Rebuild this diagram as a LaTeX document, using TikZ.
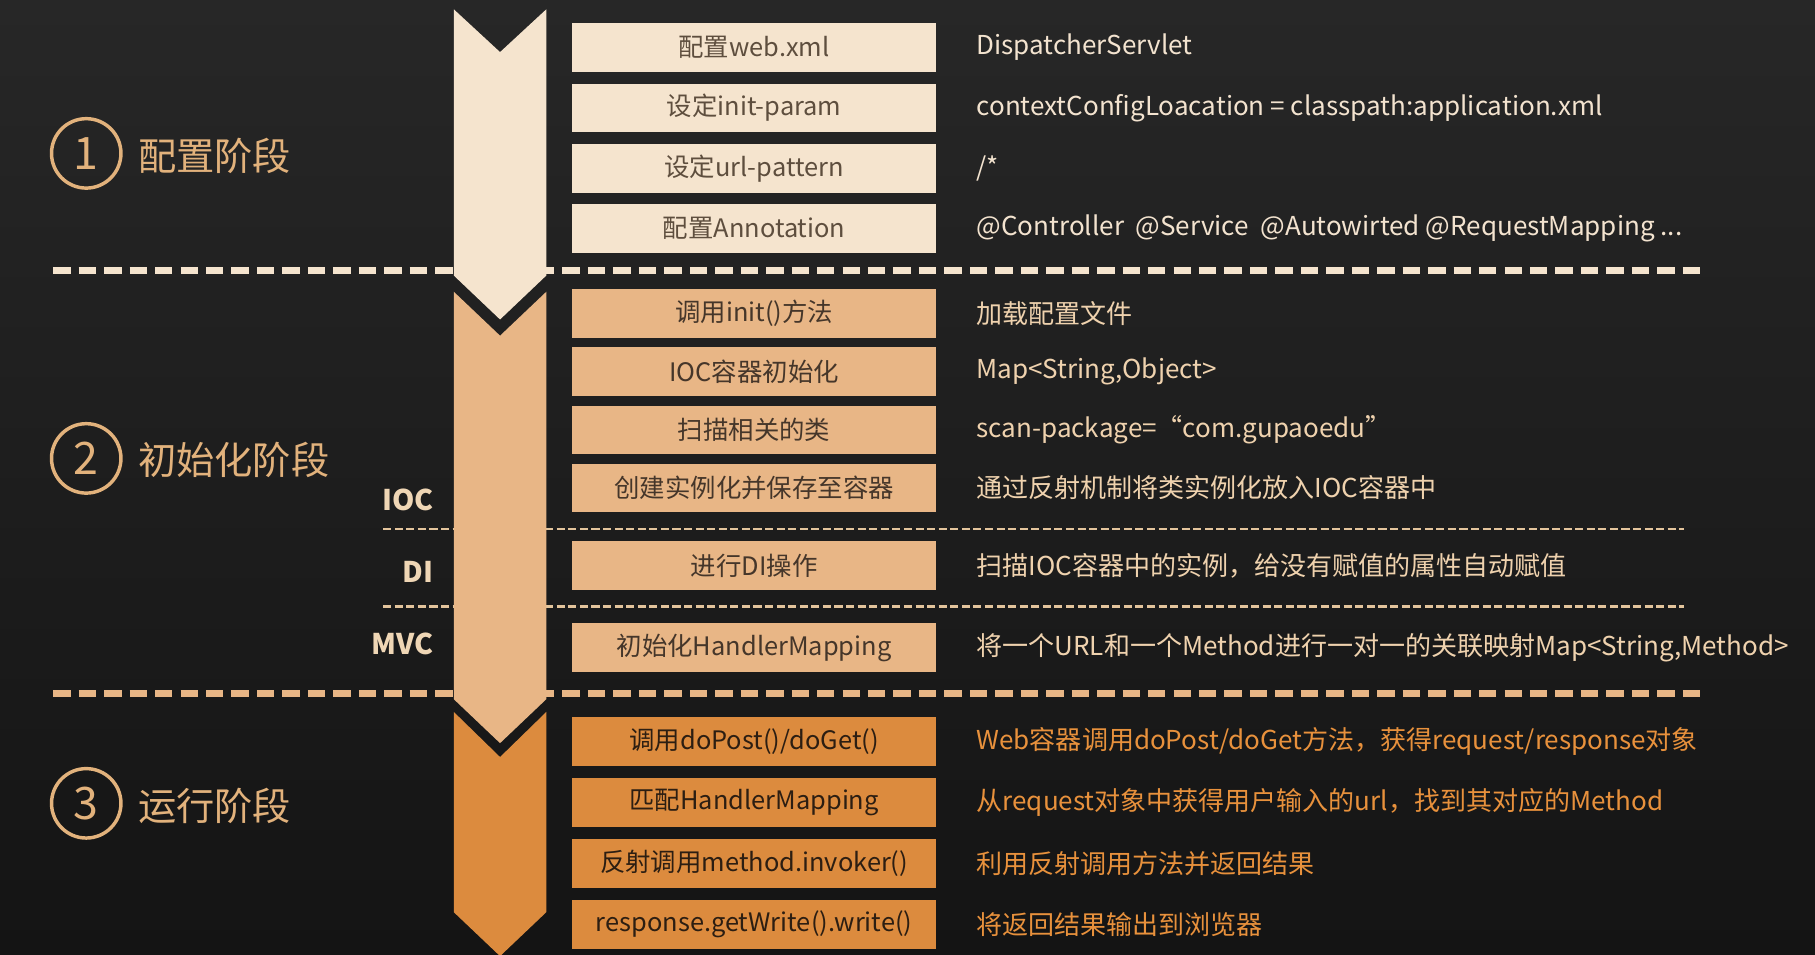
\documentclass[tikz,border=0pt]{standalone}
\usepackage{fontspec}
\setmainfont{Noto Sans CJK SC}
\usetikzlibrary{positioning}

\definecolor{bgtop}{HTML}{272727}
\definecolor{bgbot}{HTML}{141414}
\definecolor{creamA}{HTML}{F5E4CE}
\definecolor{tanB}{HTML}{E8B686}
\definecolor{orangeC}{HTML}{DC8B3E}
\definecolor{inkA}{HTML}{5E4E3E}
\definecolor{inkB}{HTML}{45362A}
\definecolor{inkC}{HTML}{2C1E12}
\definecolor{descA}{HTML}{F3E3CF}
\definecolor{descB}{HTML}{EFD2AE}
\definecolor{descC}{HTML}{E8913C}
\definecolor{phasecol}{HTML}{E2B27C}
\definecolor{tagcol}{HTML}{EFD6B5}
\definecolor{thincol}{HTML}{E3C49C}

\tikzset{
  stepbox/.style={rectangle, minimum width=6.3cm, minimum height=0.84cm, inner sep=0pt,
    font=\fontsize{12.5}{14}\selectfont},
  boxA/.style={stepbox, fill=creamA, text=inkA},
  boxB/.style={stepbox, fill=tanB, text=inkB},
  boxC/.style={stepbox, fill=orangeC, text=inkC},
  desc/.style={inner sep=0pt, anchor=west, font=\fontsize{12.8}{14}\selectfont},
  phasenum/.style={circle, draw=phasecol, line width=1.7pt, minimum size=1.2cm, inner sep=0pt,
    text=phasecol, font=\fontsize{22}{24}\selectfont},
  phasename/.style={inner sep=0pt, text=phasecol, font=\fontsize{18.8}{20}\selectfont},
  tag/.style={inner sep=0pt, anchor=east, text=tagcol, font=\fontsize{14}{16}\selectfont\bfseries},
  bigdash/.style={line width=3.4pt, dash pattern=on 0.3cm off 0.14cm},
  thindash/.style={thincol, line width=1.1pt, dash pattern=on 0.14cm off 0.06cm}
}

\begin{document}
\begin{tikzpicture}[x=0.02cm, y=-0.02cm]
\useasboundingbox (0,0) rectangle (1568,825);
\shade[top color=bgtop, bottom color=bgbot] (0,0) rectangle (1568,825);

% separators
\draw[bigdash, creamA] (46,234) -- (1470,234);
\draw[bigdash, tanB] (46,599) -- (1470,599);
\draw[thindash] (331,457) -- (1455,457);
\draw[thindash] (331,524) -- (1455,524);

% chevrons
\fill[creamA] (392,8) -- (432,45) -- (472,8) -- (472,238) -- (432,276) -- (392,238) -- cycle;
\fill[tanB] (392,252) -- (432,290) -- (472,252) -- (472,604) -- (432,642) -- (392,604) -- cycle;
\fill[orangeC] (392,615) -- (432,654) -- (472,615) -- (472,788) -- (432,826) -- (392,788) -- cycle;

% phases
\node[phasenum] (p1) at (74.5,132.5) {1};
\node[phasename, right=0.26cm of p1, yshift=-0.05cm] (n1) {配置阶段};
\node[phasenum] (p2) at (74.5,396) {2};
\node[phasename, right=0.26cm of p2, yshift=-0.03cm] (n2) {初始化阶段};
\node[phasenum] (p3) at (74.5,694) {3};
\node[phasename, right=0.26cm of p3, yshift=-0.04cm] (n3) {运行阶段};

\node[tag] (ioc) at (375,432) {IOC};
\node[tag] (di) at (375,494) {DI};
\node[tag] (mvc) at (375,556) {MVC};

% phase 1
\node[boxA] (a1) at (651.5,41) {配置web.xml};
\node[boxA, below=0.19cm of a1] (a2) {设定init-param};
\node[boxA, below=0.19cm of a2] (a3) {设定url-pattern};
\node[boxA, below=0.19cm of a3] (a4) {配置Annotation};
\node[desc, descA, right=0.68cm of a1] {DispatcherServlet};
\node[desc, descA, right=0.68cm of a2] {contextConfigLoacation = classpath:application.xml};
\node[desc, descA, right=0.68cm of a3] {/*};
\node[desc, descA, right=0.68cm of a4] {@Controller\ \ @Service\ \ @Autowirted @RequestMapping ...};

% phase 2
\node[boxB] (b1) at (651.5,271) {调用init()方法};
\node[boxB, below=0.15cm of b1] (b2) {IOC容器初始化};
\node[boxB, below=0.15cm of b2] (b3) {扫描相关的类};
\node[boxB, below=0.15cm of b3] (b4) {创建实例化并保存至容器};
\node[boxB] (b5) at (651.5,488.5) {进行DI操作};
\node[boxB] (b6) at (651.5,559.5) {初始化HandlerMapping};
\node[desc, descB, right=0.68cm of b1] {加载配置文件};
\node[desc, descB, right=0.68cm of b2] {Map<String,Object>};
\node[desc, descB, right=0.68cm of b3] {scan-package=“com.gupaoedu”};
\node[desc, descB, right=0.68cm of b4] {通过反射机制将类实例化放入IOC容器中};
\node[desc, descB, right=0.68cm of b5] {扫描IOC容器中的实例，给没有赋值的属性自动赋值};
\node[desc, descB, right=0.68cm of b6] {将一个URL和一个Method进行一对一的关联映射Map<String,Method>};

% phase 3
\node[boxC] (c1) at (651.5,640.5) {调用doPost()/doGet()};
\node[boxC, below=0.2cm of c1] (c2) {匹配HandlerMapping};
\node[boxC, below=0.2cm of c2] (c3) {反射调用method.invoker()};
\node[boxC, below=0.2cm of c3] (c4) {response.getWrite().write()};
\node[desc, descC, right=0.68cm of c1] {Web容器调用doPost/doGet方法，获得request/response对象};
\node[desc, descC, right=0.68cm of c2] {从request对象中获得用户输入的url，找到其对应的Method};
\node[desc, descC, right=0.68cm of c3] {利用反射调用方法并返回结果};
\node[desc, descC, right=0.68cm of c4] {将返回结果输出到浏览器};
\end{tikzpicture}
\end{document}
